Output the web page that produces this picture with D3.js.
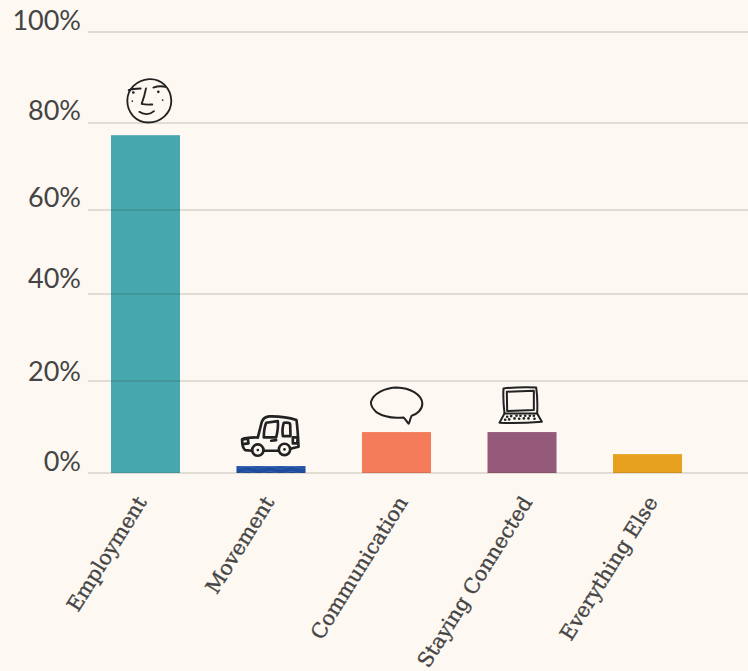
<!DOCTYPE html>
<html>
<head>
<meta charset="utf-8">
<script src="https://cdn.jsdelivr.net/npm/d3@7"></script>
<style>
  html, body { margin: 0; padding: 0; background: #fdf8f1; }
  svg { display: block; }
</style>
</head>
<body>
<svg id="canvas" width="748" height="671"></svg>
<script>
const categories = ["Employment", "Movement", "Communication", "Staying Connected", "Everything Else"];
const values = [77.2, 1.5, 8.9, 8.9, 4.1];
const colors = ["#46a8ae", "url(#waves)", "#f47c5a", "#955a7a", "#e8a11f"];
const ticks = [0, 20, 40, 60, 80, 100];
// the original axis is not evenly spaced
const tickY = [473, 381, 294, 210, 123, 32];

// hand nudges, the original labels don't line up exactly
const tickNudge = [0, 2, -4, -1, -1, 0];
const labelNudge = [-5, -3, 5, 4, 4];

// sketches traced at 3x, [x offset, y offset] is bar centre/top in the trace
const icons = {
  "Employment": {
    origin: [136.5, 225],
    width: 5.5,
    paths: [
      "M147 57C185 55 213 85 214 122C214 160 182 187 145 187C108 186 82 158 82 122C82 86 110 60 147 57Z",
      "M86 90C95 86 110 85 122 85", "M160 82C172 78 185 77 196 80",
      "M138 85C134 105 130 118 125 131C136 134 146 133 157 133",
      "M118 155C132 165 150 164 162 153"
    ],
    dots: [[100, 97, 4], [175, 95, 4], [97, 123, 2.5], [188, 120, 2.5]]
  },
  "Movement": {
    origin: [139.5, 198],
    width: 8,
    paths: [
      "M100 112L112 65Q118 50 135 49Q180 48 216 60Q220 90 222 140L198 146",
      "M160 152L118 152M82 152L62 150Q52 140 53 118Q60 112 100 112",
      "M125 68L160 63Q162 85 155 112L118 112Q118 85 125 68Z",
      "M178 68Q195 66 197 72L198 108L175 108Q172 85 178 68Z",
      "M53 118L70 116L72 130L55 132", "M205 112L220 112L218 130L205 130Z",
      "M140 122L155 120",
      "M83 150a17 17 0 1 0 34 0a17 17 0 1 0 -34 0Z",
      "M163 148a17 17 0 1 0 34 0a17 17 0 1 0 -34 0Z"
    ],
    dots: [[100, 150, 4], [180, 148, 4]]
  },
  "Communication": {
    origin: [124.5, 171],
    width: 6,
    paths: [
      "M48 80C55 55 90 38 125 37C165 38 200 58 202 85C202 105 185 118 170 122C165 130 165 140 161 146C155 140 150 130 145 127C115 130 85 125 65 112C52 100 46 92 48 80Z"
    ],
    dots: []
  },
  "Staying Connected": {
    origin: [112.5, 171],
    width: 6,
    paths: [
      "M57 40Q100 35 155 37Q160 70 158 115L60 115Q55 75 57 40Z",
      "M67 50L148 47L148 105L68 108Z",
      "M60 115L45 143Q100 146 172 140L158 115"
    ],
    dots: [[68, 125, 4], [80, 123, 4], [96, 122, 4], [108, 122, 4], [122, 122, 4], [136, 122, 4], [148, 122, 4],
      [62, 134, 4], [74, 133, 4], [90, 130, 4], [104, 131, 4], [118, 130, 4], [132, 130, 4], [150, 131, 4]]
  }
};

const svg = d3.select("#canvas");

const x = d3.scaleBand()
  .domain(categories)
  .range([88, 705])
  .paddingInner(0.45)
  .paddingOuter(0.183);

const y = d3.scaleLinear()
  .domain(ticks)
  .range(tickY);

// texture on the small blue bar
const pattern = svg.append("defs").append("pattern")
  .attr("id", "waves")
  .attr("patternUnits", "userSpaceOnUse")
  .attr("width", 22)
  .attr("height", 5);
pattern.append("rect")
  .attr("width", 22)
  .attr("height", 5)
  .attr("fill", "#1f4c9c");
pattern.append("path")
  .attr("d", "M0 2.5Q5.5 0 11 2.5T22 2.5")
  .attr("fill", "none")
  .attr("stroke", "#2f62b4")
  .attr("stroke-width", 1);

svg.append("g")
  .selectAll("rect")
  .data(categories)
  .join("rect")
  .attr("x", d => x(d))
  .attr("y", (d, i) => y(values[i]))
  .attr("width", x.bandwidth())
  .attr("height", (d, i) => y(0) - y(values[i]))
  .attr("fill", (d, i) => colors[i]);

// gridlines sit over the bars
svg.append("g")
  .selectAll("line")
  .data(ticks)
  .join("line")
  .attr("x1", 88)
  .attr("x2", 748)
  .attr("y1", d => y(d))
  .attr("y2", d => y(d))
  .attr("stroke", "#3a2f20")
  .attr("stroke-opacity", 0.18)
  .attr("stroke-width", 1.5);

svg.append("g")
  .attr("font-family", "Lato, sans-serif")
  .attr("font-size", "27px")
  .attr("fill", "#444")
  .selectAll("text")
  .data(ticks)
  .join("text")
  .attr("x", 81)
  .attr("y", (d, i) => y(d) - 2 + tickNudge[i])
  .attr("text-anchor", "end")
  .text(d => d + "%");

svg.append("g")
  .attr("font-family", "'DejaVu Serif', serif")
  .attr("font-size", "20.5px")
  .attr("fill", "#444")
  .attr("stroke", "#444")
  .attr("stroke-width", 0.35)
  .selectAll("text")
  .data(categories)
  .join("text")
  .attr("text-anchor", "end")
  .attr("transform", (d, i) => `translate(${x(d) + x.bandwidth() / 2 + 7 + labelNudge[i]},${y(0) + 29}) rotate(-58)`)
  .text(d => d);

const icon = svg.append("g")
  .selectAll("g")
  .data(categories.filter(d => icons[d]))
  .join("g")
  .attr("transform", d => {
    const [ox, oy] = icons[d].origin;
    const top = y(values[categories.indexOf(d)]);
    return `translate(${x(d) + x.bandwidth() / 2},${top}) scale(${1 / 3}) translate(${-ox},${-oy})`;
  });

icon.selectAll("path")
  .data(d => icons[d].paths.map(p => ({ p, width: icons[d].width })))
  .join("path")
  .attr("d", d => d.p)
  .attr("fill", "none")
  .attr("stroke", "#222")
  .attr("stroke-width", d => d.width)
  .attr("stroke-linecap", "round")
  .attr("stroke-linejoin", "round");

icon.selectAll("circle")
  .data(d => icons[d].dots)
  .join("circle")
  .attr("cx", d => d[0])
  .attr("cy", d => d[1])
  .attr("r", d => d[2])
  .attr("fill", "#222");
</script>
</body>
</html>
